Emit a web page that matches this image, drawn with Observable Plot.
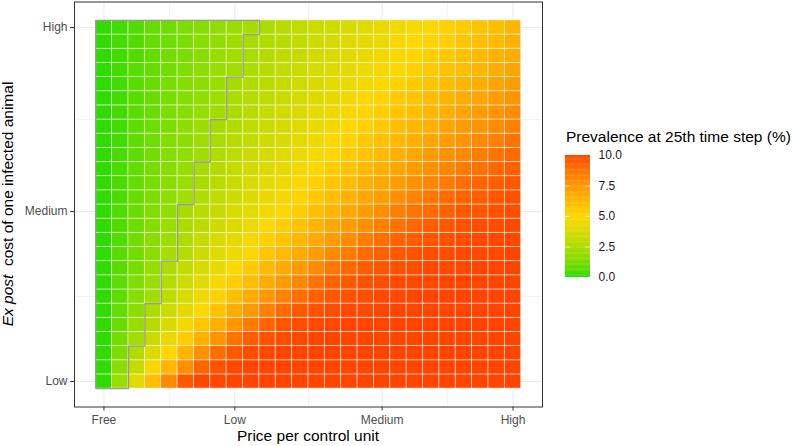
<!DOCTYPE html>
<html>
<head>
<meta charset="utf-8">
<script src="https://cdn.jsdelivr.net/npm/d3@7"></script>
<script src="https://cdn.jsdelivr.net/npm/@observablehq/plot@0.6"></script>
<style>
  body { margin: 0; background: white; }
  #chart { position: relative; width: 795px; height: 446px; font-family: "Liberation Sans", Arial, sans-serif; }
  #chart g[aria-label$="tick label"] { font-size: 12px; }
  #legend-title { position: absolute; left: 566px; top: 129px; font-size: 15.5px; line-height: 16px; color: #000; white-space: nowrap; }
  #legend { position: absolute; left: 565px; top: 147px; }
</style>
</head>
<body>
<div id="chart">
  <div id="legend-title">Prevalence at 25th time step (%)</div>
  <div id="legend"></div>
</div>
<script>
// x: price per control unit (index 0..25), y: ex post cost of one infected animal (index 0..25)
const priceTickPos = [0, 8, 17, 25];
const priceLabels = ["Free", "Low", "Medium", "High"];
const costTickPos = [0, 12, 25];
const costLabels = ["Low", "Medium", "High"];
const legendTicks = [0, 2.5, 5, 7.5, 10];

// prevalence at 25th time step (%), one row per cost level (row 0 = Low ... row 25 = High), 26 price levels each
const prevalence = [
  [0.1,2.0,4.0,6.0,8.0,9.5,9.9,10,10,10,10,10,10,10,10,10,10,10,10,10,10,10,10,10,10,10],
  [0.1,1.6,3.1,4.7,6.3,7.8,9.2,9.7,9.9,10,10,10,10,10,10,10,10,10,10,10,10,10,10,10,10,10],
  [0.1,1.3,2.6,3.8,5.1,6.4,7.7,8.9,9.5,9.8,9.9,10,10,10,10,10,10,10,10,10,10,10,10,10,10,10],
  [0.1,1.1,2.2,3.3,4.3,5.4,6.5,7.6,8.7,9.4,9.7,9.8,9.9,10,10,10,10,10,10,10,10,10,10,10,10,10],
  [0.1,0.9,1.9,2.8,3.8,4.7,5.7,6.6,7.5,8.5,9.2,9.6,9.8,9.9,9.9,10,10,10,10,10,10,10,10,10,10,10],
  [0.1,0.8,1.7,2.5,3.3,4.2,5.0,5.8,6.7,7.5,8.3,9.0,9.5,9.7,9.8,9.9,9.9,10,10,10,10,10,10,10,10,10],
  [0.1,0.7,1.5,2.2,3.0,3.7,4.5,5.2,6.0,6.7,7.5,8.2,8.9,9.3,9.6,9.7,9.8,9.9,9.9,10,10,10,10,10,10,10],
  [0.1,0.7,1.4,2.0,2.7,3.4,4.1,4.7,5.4,6.1,6.8,7.4,8.1,8.8,9.2,9.5,9.7,9.8,9.9,9.9,9.9,10,10,10,10,10],
  [0.1,0.6,1.2,1.9,2.5,3.1,3.7,4.3,4.9,5.6,6.2,6.8,7.4,8.0,8.6,9.1,9.4,9.6,9.7,9.8,9.9,9.9,9.9,10,10,10],
  [0.1,0.6,1.1,1.7,2.3,2.8,3.4,4.0,4.5,5.1,5.7,6.2,6.8,7.4,8.0,8.5,9.0,9.3,9.5,9.7,9.8,9.8,9.9,9.9,9.9,10],
  [0.1,0.5,1.1,1.6,2.1,2.6,3.2,3.7,4.2,4.7,5.3,5.8,6.3,6.8,7.4,7.9,8.4,8.9,9.2,9.4,9.6,9.7,9.8,9.9,9.9,9.9],
  [0.1,0.5,1.0,1.5,2.0,2.5,2.9,3.4,3.9,4.4,4.9,5.4,5.9,6.4,6.9,7.4,7.8,8.3,8.8,9.1,9.4,9.5,9.7,9.8,9.8,9.9],
  [0.1,0.5,0.9,1.4,1.8,2.3,2.8,3.2,3.7,4.1,4.6,5.0,5.5,6.0,6.4,6.9,7.3,7.8,8.3,8.7,9.0,9.3,9.5,9.6,9.7,9.8],
  [0.1,0.4,0.9,1.3,1.7,2.2,2.6,3.0,3.4,3.9,4.3,4.7,5.2,5.6,6.0,6.5,6.9,7.3,7.8,8.2,8.6,9.0,9.2,9.4,9.6,9.7],
  [0.1,0.4,0.8,1.2,1.6,2.0,2.4,2.8,3.3,3.7,4.1,4.5,4.9,5.3,5.7,6.1,6.5,6.9,7.3,7.7,8.1,8.5,8.9,9.2,9.4,9.5],
  [0.1,0.4,0.8,1.2,1.5,1.9,2.3,2.7,3.1,3.5,3.8,4.2,4.6,5.0,5.4,5.8,6.2,6.5,6.9,7.3,7.7,8.1,8.5,8.8,9.1,9.3],
  [0.1,0.4,0.7,1.1,1.5,1.8,2.2,2.6,2.9,3.3,3.6,4.0,4.4,4.7,5.1,5.5,5.8,6.2,6.6,6.9,7.3,7.7,8.0,8.4,8.7,9.0],
  [0.1,0.3,0.7,1.0,1.4,1.7,2.1,2.4,2.8,3.1,3.5,3.8,4.2,4.5,4.9,5.2,5.6,5.9,6.2,6.6,6.9,7.3,7.6,8.0,8.3,8.7],
  [0.1,0.3,0.7,1.0,1.3,1.7,2.0,2.3,2.6,3.0,3.3,3.6,4.0,4.3,4.6,5.0,5.3,5.6,6.0,6.3,6.6,7.0,7.3,7.6,7.9,8.3],
  [0.1,0.3,0.6,0.9,1.3,1.6,1.9,2.2,2.5,2.8,3.2,3.5,3.8,4.1,4.4,4.7,5.1,5.4,5.7,6.0,6.3,6.6,7.0,7.3,7.6,7.9],
  [0.1,0.3,0.6,0.9,1.2,1.5,1.8,2.1,2.4,2.7,3.0,3.3,3.6,3.9,4.2,4.5,4.8,5.2,5.5,5.8,6.1,6.4,6.7,7.0,7.3,7.6],
  [0.1,0.3,0.6,0.9,1.2,1.5,1.7,2.0,2.3,2.6,2.9,3.2,3.5,3.8,4.1,4.4,4.7,4.9,5.2,5.5,5.8,6.1,6.4,6.7,7.0,7.3],
  [0.1,0.3,0.6,0.8,1.1,1.4,1.7,2.0,2.2,2.5,2.8,3.1,3.3,3.6,3.9,4.2,4.5,4.7,5.0,5.3,5.6,5.9,6.1,6.4,6.7,7.0],
  [0.1,0.3,0.5,0.8,1.1,1.3,1.6,1.9,2.2,2.4,2.7,3.0,3.2,3.5,3.8,4.0,4.3,4.6,4.8,5.1,5.4,5.6,5.9,6.2,6.5,6.7],
  [0.1,0.3,0.5,0.8,1.0,1.3,1.6,1.8,2.1,2.3,2.6,2.8,3.1,3.4,3.6,3.9,4.1,4.4,4.7,4.9,5.2,5.4,5.7,6.0,6.2,6.5],
  [0.1,0.3,0.5,0.8,1.0,1.3,1.5,1.8,2.0,2.3,2.5,2.8,3.0,3.3,3.5,3.8,4.0,4.3,4.5,4.8,5.0,5.3,5.5,5.8,6.0,6.3]
];

// number of price levels enclosed by the grey contour, per cost level (row 0 = Low)
const contourCols = [2,2,2,3,3,3,4,4,4,5,5,5,5,6,6,6,7,7,7,8,8,8,9,9,9,10];

const colorScale = {
  type: "linear",
  domain: [0, 5, 10],
  range: ["#20dc00", "#ffd700", "#ff4500"],
  interpolate: "lab"
};

const cells = [];
prevalence.forEach((row, yi) => row.forEach((v, xi) => cells.push({x: xi, y: yi, value: v})));

const contour = [{x: -0.5, y: -0.5}];
contourCols.forEach((b, r) => { contour.push({x: b - 0.5, y: r - 0.5}, {x: b - 0.5, y: r + 0.5}); });
contour.push({x: -0.5, y: contourCols.length - 0.5}, {x: -0.5, y: -0.5});

const minorX = priceTickPos.slice(1).map((d, i) => (d + priceTickPos[i]) / 2);
const minorY = costTickPos.slice(1).map((d, i) => (d + costTickPos[i]) / 2);

const font = "'Liberation Sans', Arial, sans-serif";

const main = Plot.plot({
  width: 795,
  height: 446,
  marginLeft: 74,
  marginRight: 253,
  marginTop: 1.5,
  marginBottom: 39.5,
  style: {fontFamily: font, background: "white", overflow: "visible"},
  x: {domain: [-1.8, 26.8]},
  y: {domain: [-1.8, 26.8]},
  color: colorScale,
  marks: [
    Plot.ruleX(minorX, {stroke: "#ebebeb", strokeWidth: 0.6}),
    Plot.ruleY(minorY, {stroke: "#ebebeb", strokeWidth: 0.6}),
    Plot.ruleX(priceTickPos, {stroke: "#ebebeb", strokeWidth: 1.1}),
    Plot.ruleY(costTickPos, {stroke: "#ebebeb", strokeWidth: 1.1}),
    Plot.rect(cells, {
      x1: d => d.x - 0.5, x2: d => d.x + 0.5,
      y1: d => d.y - 0.5, y2: d => d.y + 0.5,
      fill: "value", stroke: "white", strokeWidth: 0.8, strokeOpacity: 0.6
    }),
    Plot.line(contour, {x: "x", y: "y", stroke: "#9a9a9a", strokeWidth: 1.3}),
    Plot.frame({stroke: "#333333", strokeWidth: 1}),
    Plot.axisX(priceTickPos, {
      tickFormat: d => priceLabels[priceTickPos.indexOf(d)],
      tickSize: 4, tickPadding: 4, fontSize: 12, stroke: "#333333", fill: "#4d4d4d", label: null
    }),
    Plot.axisY(costTickPos, {
      tickFormat: d => costLabels[costTickPos.indexOf(d)],
      tickSize: 4, tickPadding: 3, fontSize: 12, stroke: "#333333", fill: "#4d4d4d", label: null
    })
  ]
});
document.getElementById("chart").prepend(main);

const svg = d3.select(main);
svg.append("text")
  .attr("x", 308).attr("y", 441)
  .attr("text-anchor", "middle")
  .style("font-size", "15.5px").style("fill", "#000")
  .style("font-family", font)
  .text("Price per control unit");
const yTitle = svg.append("text")
  .attr("transform", "translate(13,204) rotate(-90)")
  .attr("text-anchor", "middle")
  .style("font-size", "15.5px").style("fill", "#000")
  .style("font-family", font);
yTitle.append("tspan").style("font-style", "italic").text("Ex post");
yTitle.append("tspan").style("white-space", "pre").text("  cost of one infected animal");

// colour bar legend
const ramp = d3.range(0, 10, 0.1);
const legend = Plot.plot({
  width: 70,
  height: 138,
  marginLeft: 0,
  marginRight: 45,
  marginTop: 8,
  marginBottom: 8,
  style: {fontFamily: font, background: "transparent", overflow: "visible"},
  x: {domain: [0, 1], axis: null},
  y: {domain: [0, 10]},
  color: colorScale,
  marks: [
    Plot.rect(ramp, {x1: 0, x2: 1, y1: d => d, y2: d => Math.min(10, d + 0.13), fill: d => d + 0.05}),
    Plot.ruleY(legendTicks.slice(1, -1), {x1: 0, x2: 0.2, stroke: "white", strokeOpacity: 0.6}),
    Plot.ruleY(legendTicks.slice(1, -1), {x1: 0.8, x2: 1, stroke: "white", strokeOpacity: 0.6}),
    Plot.axisY(legendTicks, {
      anchor: "right", tickSize: 0, tickPadding: 8, fontSize: 12, fill: "#1a1a1a",
      tickFormat: d => d.toFixed(1), label: null
    })
  ]
});
document.getElementById("legend").append(legend);
</script>
</body>
</html>
